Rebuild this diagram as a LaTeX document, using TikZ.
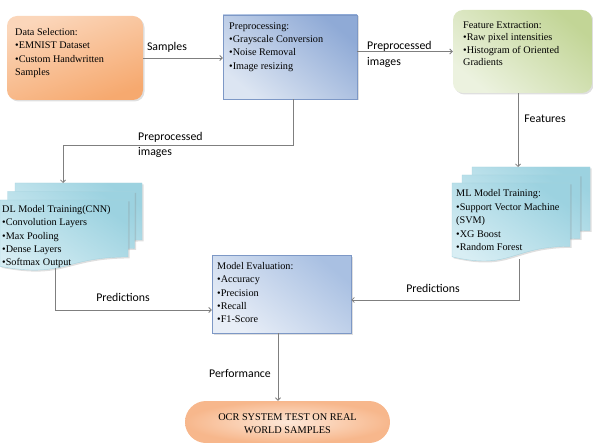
\documentclass[tikz,border=0pt]{standalone}
\usepackage{fontspec}
\setmainfont{Liberation Serif}
\newfontfamily\labfont{Carlito}
\usetikzlibrary{arrows.meta,shadows,shapes.misc}
\definecolor{edgegray}{HTML}{7F7F7F}
\definecolor{orgA}{HTML}{FBD6BA}
\definecolor{orgB}{HTML}{F6A96F}
\definecolor{bluA}{HTML}{8FAAD6}
\definecolor{bluB}{HTML}{DCE5F2}
\definecolor{bluC}{HTML}{A9C0E2}
\definecolor{bluD}{HTML}{E8EEF7}
\definecolor{bluE}{HTML}{7D98C6}
\definecolor{grnA}{HTML}{C2D596}
\definecolor{grnB}{HTML}{ECF2DF}
\definecolor{cyaA}{HTML}{9CD2E0}
\definecolor{cyaB}{HTML}{D8EEF4}
\definecolor{cyaE}{HTML}{A7D3DF}
\definecolor{ocrA}{HTML}{FDE8D8}
\definecolor{ocrB}{HTML}{F7B78C}
\newcommand\mydoc[4]{\path[docfill] (#1,#2) -- (#1+#3,#2) -- (#1+#3,#2+0.802*#4) .. controls (#1+0.5*#3,#2+0.802*#4) and (#1+0.5*#3,#2+1.1075*#4) .. (#1,#2+0.934*#4) -- cycle;}
\begin{document}
\begin{tikzpicture}[x=1pt,y=-1pt,
  shad/.style={drop shadow={opacity=0.25,shadow xshift=1.5pt,shadow yshift=-1.5pt}},
  box/.style={rectangle,inner sep=0pt,shad},
  docfill/.style={draw=cyaE,line width=0.4pt,top color=cyaA,bottom color=cyaB,shading angle=-35,shad},
  txt/.style={anchor=north west,align=left,inner sep=0pt,font=\fontsize{10.2}{13.2}\selectfont},
  lbl/.style={inner sep=0pt,align=left,font=\labfont\fontsize{11.8}{15.5}\selectfont},
  conn/.style={draw=edgegray,line width=0.8pt,-{Straight Barb[length=2.5pt,width=5pt]}}]
\useasboundingbox (0,0) rectangle (593,443);

% boxes
\node[box,rounded corners=10pt,minimum width=136pt,minimum height=84pt,top color=orgA,bottom color=orgB,shading angle=20] (data) at (75,58) {};
\node[box,draw=bluE,line width=0.5pt,minimum width=134pt,minimum height=84pt,top color=bluA,bottom color=bluB,shading angle=-40] (pre) at (290,57) {};
\node[box,rounded corners=10pt,minimum width=139pt,minimum height=83pt,top color=grnA,bottom color=grnB,shading angle=-40] (feat) at (522.5,51.5) {};
\node[box,draw=bluE,line width=0.5pt,minimum width=139pt,minimum height=78pt,top color=bluC,bottom color=bluD,shading angle=-40] (eval) at (281.5,294) {};
\node[rounded rectangle,inner sep=0pt,minimum width=205pt,minimum height=42pt,shading=radial,inner color=ocrA,outer color=ocrB] (ocr) at (287.5,422) {};

% multi-document stacks
\mydoc{15}{183}{127}{71}
\mydoc{7.5}{191.5}{127}{71}
\mydoc{0}{200}{128}{71}
\mydoc{472}{167}{118}{79}
\mydoc{462}{175}{118}{79}
\mydoc{452}{183}{118}{79}

% texts
\node[txt] (datat) at (15,28.5) {Data Selection:\\•EMNIST Dataset\\•Custom Handwritten\\Samples};
\node[txt] (pret) at (229,22.5) {Preprocessing:\\•Grayscale Conversion\\•Noise Removal\\•Image resizing};
\node[txt,font=\fontsize{10.2}{12.5}\selectfont] (featt) at (463,21.5) {Feature Extraction:\\•Raw pixel intensities\\•Histogram of Oriented\\Gradients};
\node[txt] (dl) at (2,205.5) {DL Model Training(CNN)\\•Convolution Layers\\•Max Pooling\\•Dense Layers\\•Softmax Output};
\node[txt,font=\fontsize{10.2}{13.5}\selectfont] (ml) at (456,189.5) {ML Model Training:\\•Support Vector Machine\\(SVM)\\•XG Boost\\•Random Forest};
\node[txt] (evalt) at (217,262.5) {Model Evaluation:\\•Accuracy\\•Precision\\•Recall\\•F1-Score};
\node[inner sep=0pt,align=center,font=\fontsize{10.3}{13}\selectfont] (ocrt) at (287.5,424) {OCR SYSTEM TEST ON REAL\\WORLD SAMPLES};

% connector anchors on the document stacks
\coordinate (dltop) at (63,183);
\coordinate (dlbot) at (55,268);
\coordinate (mltop) at (518,167);
\coordinate (mlbot) at (519,259);
\coordinate (lpred) at (0,310);
\coordinate (rpred) at (0,300);

% connectors
\draw[conn] (data.east) -- (data.east -| pre.west);
\draw[conn] (pre.east |- feat.west) -- (feat.west);
\draw[conn] ([xshift=3pt]pre.south) -- ++(0,46) -| (dltop);
\draw[conn] (feat.south -| mltop) -- (mltop);
\draw[conn] (dlbot) |- (eval.west |- lpred);
\draw[conn] (mlbot) |- (eval.east |- rpred);
\draw[conn] ([xshift=-3.5pt]eval.south) -- ([xshift=-3.5pt]eval.south |- ocr.north);

% labels
\node[lbl] (l1) at (167,47) {Samples};
\node[lbl,anchor=west] (l2) at (367,54.5) {Preprocessed\\images};
\node[lbl,anchor=west] (l3) at (138,145) {Preprocessed\\images};
\node[lbl] (l4) at (545,119) {Features};
\node[lbl] (l5) at (123,297) {Predictions};
\node[lbl] (l6) at (433,288) {Predictions};
\node[lbl] (l7) at (240,373) {Performance};
\end{tikzpicture}
\end{document}
